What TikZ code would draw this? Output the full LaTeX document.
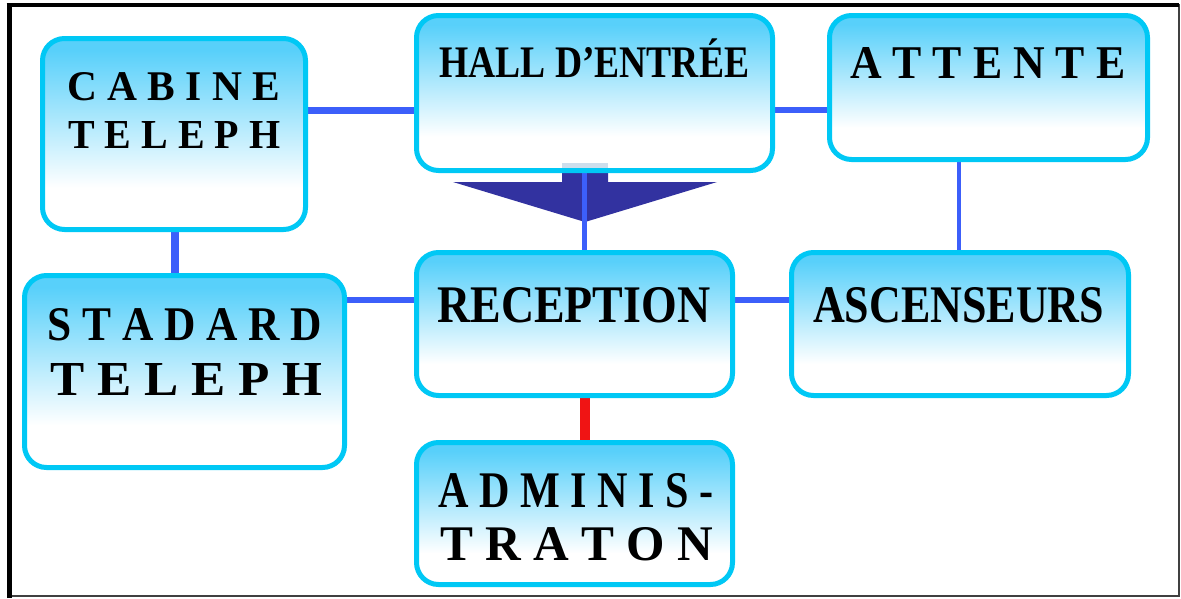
\documentclass[tikz,border=0pt]{standalone}
\usepackage{fontspec}
\setmainfont{Liberation Serif}
\usepackage{graphicx}
\usetikzlibrary{backgrounds}
\definecolor{boxtop}{RGB}{88,208,250}
\colorlet{boxmid}{boxtop!50!white}
\definecolor{boxedge}{RGB}{0,200,245}
\definecolor{connblue}{RGB}{60,95,250}
\definecolor{navyarrow}{RGB}{50,50,160}
\definecolor{connred}{RGB}{240,20,20}
\definecolor{faintband}{RGB}{205,222,236}
\pgfdeclareverticalshading{boxfade}{100bp}{color(0bp)=(white); color(25bp)=(white); color(36bp)=(white); color(54bp)=(boxmid); color(72bp)=(boxtop); color(100bp)=(boxtop)}
\newcommand{\fitlbl}[3]{\resizebox{#1pt}{#2pt}{\bfseries #3}}
\tikzset{
  roombox/.style={draw=boxedge, line width=5pt, rounded corners=22pt, shade, shading=boxfade, inner sep=0pt},
  roomtext/.style={anchor=base west, inner sep=0pt, text=black},
  conn/.style={draw=connblue, line width=#1},
  conn/.default=7pt,
  redconn/.style={draw=connred, line width=10pt}
}
\begin{document}
\begin{tikzpicture}[x=1pt,y=-1pt]
\useasboundingbox (0,0) rectangle (1181,598);
% frame
\draw[black!75, line width=1.2pt] (9,5) rectangle (1179,596);
\draw[black, line width=5pt] (9,598) -- (9,5);
\draw[black, line width=4pt] (6.5,5) -- (1179,5);

% rooms
\node[roombox, minimum width=263pt, minimum height=191pt] (cab) at (174,134) {};
\node[roombox, minimum width=356pt, minimum height=155pt] (hall) at (594.5,93) {};
\node[roombox, minimum width=318pt, minimum height=144pt] (att) at (988.5,87.5) {};
\node[roombox, minimum width=320pt, minimum height=192pt] (std) at (184.5,371.5) {};
\node[roombox, minimum width=316pt, minimum height=143pt] (rec) at (574.5,324) {};
\node[roombox, minimum width=337pt, minimum height=143pt] (asc) at (960,324) {};
\node[roombox, minimum width=316pt, minimum height=142pt] (adm) at (574.5,513.5) {};

\fill[faintband] (562,163) rectangle (608,168);

% labels
\node[roomtext] (cabA) at (67,100) {\fitlbl{213}{28}{C A B I N E}};
\node[roomtext] (cabB) at (68,148) {\fitlbl{212}{27}{T E L E P H}};
\node[roomtext] (hallA) at (439,77) {\fitlbl{310}{30}{HALL D’ENTR\smash{É}E}};
\node[roomtext] (attA) at (850,78) {\fitlbl{275}{31}{A T T E N T E}};
\node[roomtext] (stdA) at (47,340) {\fitlbl{275}{32}{S T A D A R D}};
\node[roomtext] (stdB) at (50,395) {\fitlbl{272}{32}{T E L E P H}};
\node[roomtext] (recA) at (437,322) {\fitlbl{273}{35}{RECEPTION}};
\node[roomtext] (ascA) at (813,322) {\fitlbl{291}{35}{ASCENSEURS}};
\node[roomtext] (admA) at (438,507) {\fitlbl{275}{34}{A D M I N I S -}};
\node[roomtext] (admB) at (440,560) {\fitlbl{273}{33}{T R A T O N}};

% helper coordinates
\coordinate (yTop) at (0,110);
\coordinate (yMid) at (0,300);
\coordinate (xCab) at (175,0);
\coordinate (xAtt) at (959,0);
\coordinate (xHall) at (584,0);
\coordinate (xRec) at (585,0);

\begin{scope}[on background layer]
  \fill[navyarrow] (562,173) -- (608,173) -- (608,182) -- (717,182) -- (585,222) -- (453,182) -- (562,182) -- cycle;
  \draw[conn=7pt] (cab.east |- yTop) -- (hall.west |- yTop);
  \draw[conn=6.5pt] (hall.east |- yTop) -- (att.west |- yTop);
  \draw[conn=8pt] (cab.south -| xCab) -- (std.north -| xCab);
  \draw[conn=6.5pt] (std.east |- yMid) -- (rec.west |- yMid);
  \draw[conn=6.5pt] (rec.east |- yMid) -- (asc.west |- yMid);
  \draw[conn=4.5pt] (att.south -| xAtt) -- (asc.north -| xAtt);
  \draw[conn=5pt] (hall.south -| xHall) -- (rec.north -| xHall);
  \draw[redconn] (rec.south -| xRec) -- (adm.north -| xRec);
\end{scope}
\end{tikzpicture}
\end{document}
